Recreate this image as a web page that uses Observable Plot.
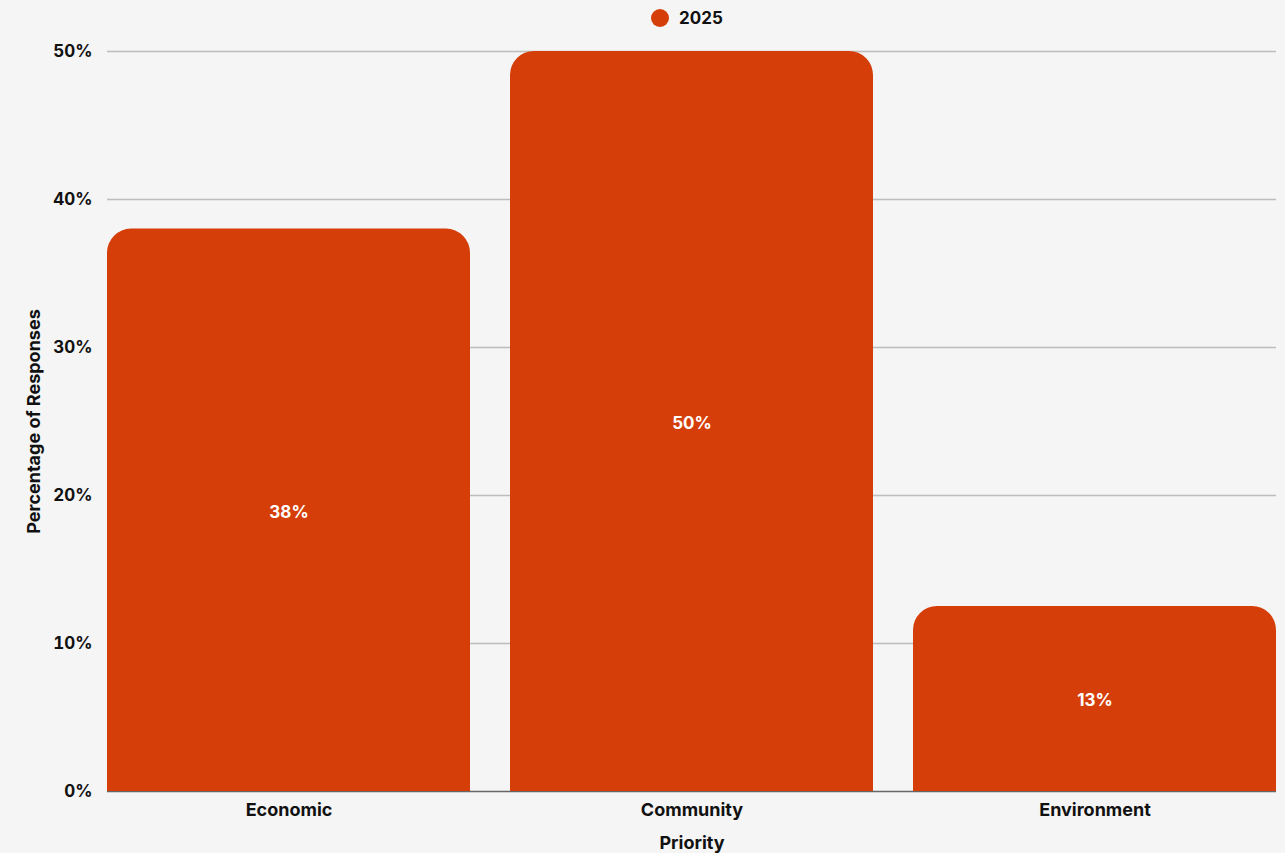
<!DOCTYPE html>
<html>
<head>
<meta charset="utf-8">
<script src="https://cdn.jsdelivr.net/npm/d3@7"></script>
<script src="https://cdn.jsdelivr.net/npm/@observablehq/plot@0.6"></script>
<style>
  html, body { margin: 0; padding: 0; background: #f5f5f5; }
  body { width: 1285px; height: 853px; position: relative; overflow: hidden; font-family: Inter, sans-serif; }
  #legend { position: absolute; top: 8px; left: 651px; display: flex; align-items: center; font-weight: 700; font-size: 17px; color: #111; }
  #legend .dot { width: 18px; height: 18px; border-radius: 50%; background: #d63e09; margin-right: 10px; }
  #chart { position: absolute; top: 0; left: 0; }
</style>
</head>
<body>
<div id="chart"></div>
<div id="legend"><span class="dot"></span><span>2025</span></div>
<script>
const categories = ["Economic", "Community", "Environment"];
const values = [38, 50, 12.5];
const valueLabels = ["38%", "50%", "13%"];
const yTicks = [0, 10, 20, 30, 40, 50];
const seriesName = "2025";

const data = categories.map((c, i) => ({category: c, value: values[i], label: valueLabels[i]}));
const barColor = "#d63e09";
const font = "Inter, sans-serif";

const chart = Plot.plot({
  width: 1285,
  height: 853,
  marginTop: 51,
  marginBottom: 62,
  marginLeft: 107,
  marginRight: 9,
  style: {background: "#f5f5f5", fontFamily: font, fontWeight: 700, fontSize: "17px", color: "#111"},
  x: {domain: categories, paddingInner: 0.1, paddingOuter: 0, label: null},
  y: {domain: [0, 50], label: null},
  marks: [
    Plot.ruleY(yTicks.filter(d => d > 0), {stroke: "#bdbdbd", strokeWidth: 1.5}),
    Plot.ruleY([0], {stroke: "#666", strokeWidth: 1.5}),
    Plot.barY(data, {x: "category", y: "value", fill: barColor, ry1: 24}),
    Plot.text(data, {x: "category", y: d => d.value / 2, text: "label", fill: "white", fontSize: 17, fontWeight: 700, dy: 2}),
    Plot.axisY({ticks: yTicks, tickFormat: d => d + "%", tickSize: 0, tickPadding: 15, fontSize: 17, fontWeight: 700,
      label: "Percentage of Responses", labelAnchor: "center", labelArrow: "none", labelOffset: 80}),
    Plot.axisX({tickSize: 0, tickPadding: 12, fontSize: 18, fontWeight: 700,
      label: "Priority", labelAnchor: "center", labelArrow: "none", labelOffset: 57})
  ]
});
chart.querySelectorAll("g[aria-label='y-axis label'] text, g[aria-label='x-axis label'] text").forEach(t => t.setAttribute("font-size", 18));
document.getElementById("chart").appendChild(chart);
</script>
</body>
</html>
